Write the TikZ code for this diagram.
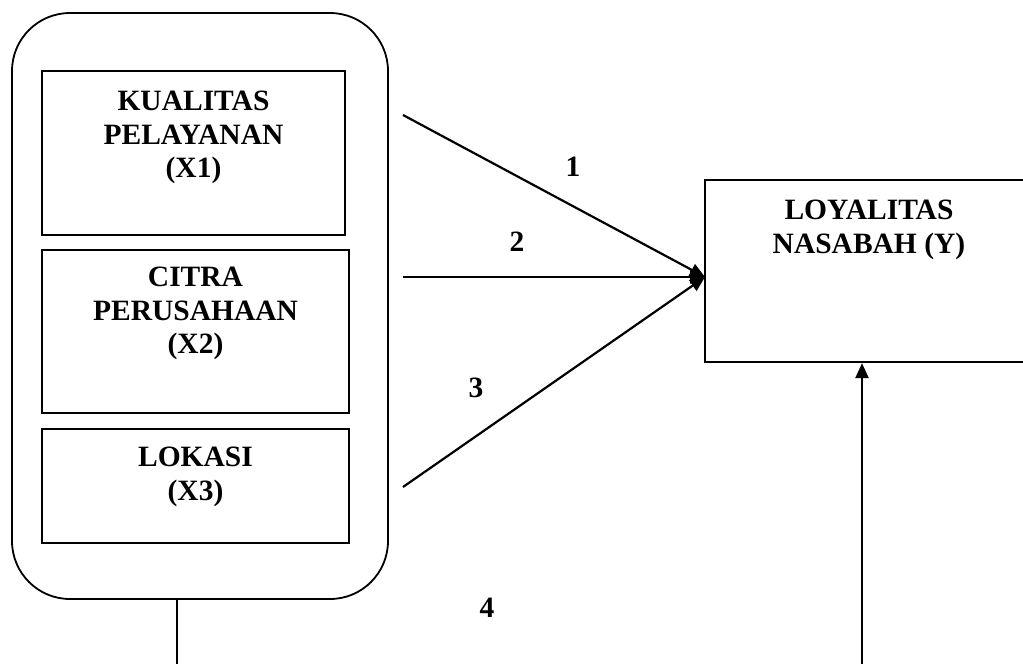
\documentclass[tikz,border=0pt]{standalone}
\usepackage{fontspec}
\setmainfont{Liberation Serif}
\usetikzlibrary{arrows.meta,calc}
\tikzset{
  box/.style={draw=black, line width=2.2pt, rectangle, inner sep=0pt},
  grpbox/.style={draw=black, line width=1.8pt, rectangle, rounded corners=58pt, inner sep=0pt},
  txt/.style={align=center, inner sep=0pt, anchor=north, font=\fontsize{29.5}{33.5}\selectfont\bfseries},
  num/.style={inner sep=0pt, font=\fontsize{29.5}{33.5}\selectfont\bfseries},
  conn/.style={line width=2.2pt},
  arr/.style={line width=2.2pt, -{Triangle[length=15pt,width=13pt]}}
}
\begin{document}
\begin{tikzpicture}[x=1pt,y=-1pt]
\useasboundingbox (0,0) rectangle (1023,664);
\clip (0,0) rectangle (1023,664);
% group
\node[grpbox, minimum width=376pt, minimum height=586pt] (grp) at (200,306) {};
\node[box, minimum width=303pt, minimum height=164pt] (b1) at (193.5,153) {};
\node[box, minimum width=307pt, minimum height=163pt] (b2) at (195.5,331.5) {};
\node[box, minimum width=307pt, minimum height=114pt] (b3) at (195.5,486) {};
\node[txt] (t1) at (193.5,91) {KUALITAS\\PELAYANAN\\(X1)};
\node[txt] (t2) at (195.5,267) {CITRA\\PERUSAHAAN\\(X2)};
\node[txt] (t3) at (195.5,447) {LOKASI\\(X3)};
% target
\node[box, minimum width=328pt, minimum height=182pt] (Y) at (869,271) {};
\node[txt] (ty) at (869,200) {LOYALITAS\\NASABAH (Y)};
% connectors
\coordinate (ytip) at (705,277);
\coordinate (s1) at (403,115);
\coordinate (s2) at (403,277);
\coordinate (s3) at (403,487);
\draw[arr] (s1) -- (ytip);
\draw[arr] (s2) -- (ytip);
\draw[arr] (s3) -- (ytip);
\coordinate (l4) at (177,664);
\draw[conn] (grp.south -| l4) -- (l4);
\coordinate (r4) at (862,664);
\draw[arr] (r4) -- (r4 |- Y.south);
% labels
\node[num] (n1) at (573,167) {1};
\node[num] (n2) at (517,242) {2};
\node[num] (n3) at (476,388) {3};
\node[num] (n4) at (487,608) {4};
\end{tikzpicture}
\end{document}
